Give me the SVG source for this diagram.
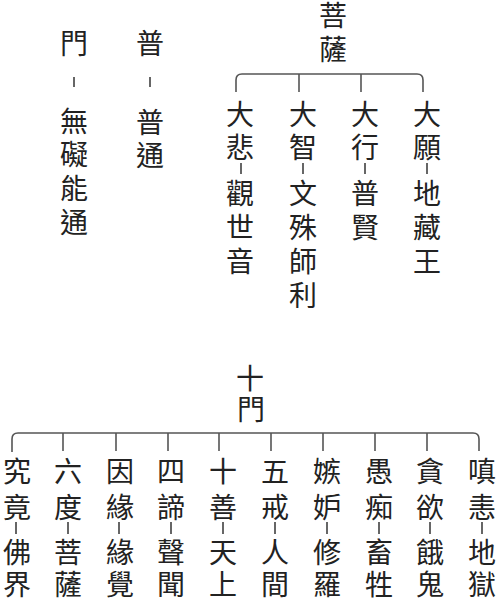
<svg xmlns="http://www.w3.org/2000/svg" width="500" height="600" viewBox="0 0 500 600">
<style>
text{font-family:"Noto Sans CJK TC","Noto Sans CJK SC",sans-serif;font-size:28px;fill:#222;text-anchor:middle}
.c{fill:none;stroke:#555;stroke-width:1.6}
.d{stroke:#333;stroke-width:1.5}
</style>
<rect width="500" height="600" fill="#fff"/>
<g id="connectors">
<path class="c" d="M236,92V80Q236,74 242,74H417Q423,74 423,80V92M299,74V92M361,74V92"/>
<path class="c" d="M12,452V439Q12,433 18,433H473Q479,433 479,439V451M63,433V451M116,433V451M168,433V451M219,433V451M271,433V451M323,433V451M375,433V451M427,433V451"/>
</g>
<g id="men">
<text x="74" y="54">門</text><line class="d" x1="74" y1="77" x2="74" y2="87"/>
<text x="74" y="132">無</text><text x="74" y="165">礙</text><text x="74" y="199">能</text><text x="74" y="233">通</text>
</g>
<g id="pu">
<text x="150" y="54">普</text><line class="d" x1="150" y1="77" x2="150" y2="87"/>
<text x="150" y="133">普</text><text x="150" y="166">通</text>
</g>
<g id="pusa">
<text x="333" y="26">菩</text><text x="333" y="60">薩</text>
</g>
<g id="b1">
<text x="240" y="125">大</text><text x="240" y="158">悲</text><line class="d" x1="241" y1="163" x2="241" y2="174"/>
<text x="240" y="204">觀</text><text x="240" y="238">世</text><text x="240" y="272">音</text>
</g>
<g id="b2">
<text x="303" y="125">大</text><text x="303" y="158">智</text><line class="d" x1="303" y1="163" x2="303" y2="174"/>
<text x="303" y="204">文</text><text x="303" y="238">殊</text><text x="303" y="272">師</text><text x="303" y="306">利</text>
</g>
<g id="b3">
<text x="365" y="125">大</text><text x="365" y="158">行</text><line class="d" x1="365" y1="163" x2="365" y2="174"/>
<text x="365" y="204">普</text><text x="365" y="238">賢</text>
</g>
<g id="b4">
<text x="427" y="125">大</text><text x="427" y="158">願</text><line class="d" x1="427" y1="163" x2="427" y2="174"/>
<text x="427" y="204">地</text><text x="427" y="238">藏</text><text x="427" y="272">王</text>
</g>
<g id="shimen">
<text x="250" y="389">十</text><text x="251" y="420">門</text>
</g>
<g id="m1"><text x="17" y="482">究</text><text x="17" y="518">竟</text><line class="d" x1="16" y1="522" x2="16" y2="534"/><text x="17" y="563">佛</text><text x="17" y="595">界</text></g>
<g id="m2"><text x="68" y="482">六</text><text x="68" y="518">度</text><line class="d" x1="68" y1="522" x2="68" y2="534"/><text x="68" y="563">菩</text><text x="68" y="595">薩</text></g>
<g id="m3"><text x="120" y="482">因</text><text x="120" y="518">緣</text><line class="d" x1="119" y1="522" x2="119" y2="534"/><text x="120" y="563">緣</text><text x="120" y="595">覺</text></g>
<g id="m4"><text x="171" y="482">四</text><text x="171" y="518">諦</text><line class="d" x1="171" y1="522" x2="171" y2="534"/><text x="171" y="563">聲</text><text x="171" y="595">聞</text></g>
<g id="m5"><text x="223" y="482">十</text><text x="223" y="518">善</text><line class="d" x1="223" y1="522" x2="223" y2="534"/><text x="223" y="563">天</text><text x="223" y="595">上</text></g>
<g id="m6"><text x="275" y="482">五</text><text x="275" y="518">戒</text><line class="d" x1="275" y1="522" x2="275" y2="534"/><text x="275" y="563">人</text><text x="275" y="595">間</text></g>
<g id="m7"><text x="327" y="482">嫉</text><text x="327" y="518">妒</text><line class="d" x1="327" y1="522" x2="327" y2="534"/><text x="327" y="563">修</text><text x="327" y="595">羅</text></g>
<g id="m8"><text x="379" y="482">愚</text><text x="379" y="518">痴</text><line class="d" x1="379" y1="522" x2="379" y2="534"/><text x="379" y="563">畜</text><text x="379" y="595">牲</text></g>
<g id="m9"><text x="430" y="482">貪</text><text x="430" y="518">欲</text><line class="d" x1="430" y1="522" x2="430" y2="534"/><text x="430" y="563">餓</text><text x="430" y="595">鬼</text></g>
<g id="m10"><text x="482" y="482">嗔</text><text x="482" y="518">恚</text><line class="d" x1="482" y1="522" x2="482" y2="534"/><text x="482" y="563">地</text><text x="482" y="595">獄</text></g>
</svg>
